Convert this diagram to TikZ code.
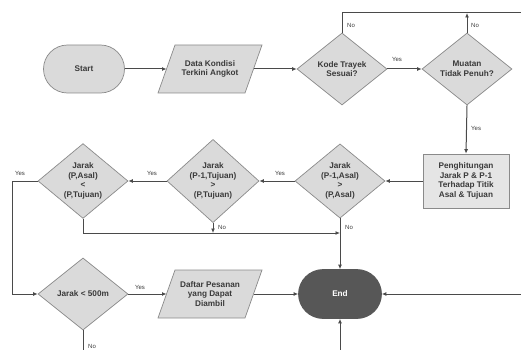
\documentclass[tikz,border=0pt]{standalone}
\usepackage{fontspec}
\setmainfont{Liberation Sans}
\usetikzlibrary{shapes.geometric,shapes.misc,arrows.meta}
\definecolor{ln}{HTML}{4A4A4A}
\definecolor{fl}{HTML}{DADADA}
\definecolor{bd}{HTML}{8A8A8A}
\definecolor{tx}{HTML}{3A3A3A}
\definecolor{endfill}{HTML}{575757}
\tikzset{
  txt/.style={text=tx, font=\fontsize{8.2}{9.6}\selectfont\bfseries, align=center, inner sep=0pt},
  base/.style={txt, draw=bd, fill=fl, line width=0.7pt},
  shapeline/.style={draw=bd, fill=fl, line width=0.7pt},
  term/.style={base, rounded rectangle, minimum width=81pt, minimum height=48pt},
  dec/.style={base, diamond, minimum width=90pt, minimum height=72pt},
  proc/.style={base, rectangle, minimum width=86pt, minimum height=54pt, fill=fl!70!white},
  conn/.style={draw=ln, line width=1pt},
  arr/.style={conn, -{Latex[length=4.5pt,width=4pt]}},
  lbl/.style={text=tx, font=\fontsize{6}{7}\selectfont, inner sep=0pt}
}
\begin{document}
\begin{tikzpicture}[x=1pt,y=-1pt]
\useasboundingbox (0,0) rectangle (521,350);
\node[term] (start) at (84,69) {Start};
% parallelogram: Data Kondisi
\draw[shapeline] (175,45) -- (262,45) -- (245,93) -- (158,93) -- cycle;
\node[txt] (data) at (210,69) {Data Kondisi\\Terkini Angkot};
\coordinate (dataW) at (166.5,69);
\coordinate (dataE) at (253.5,69);
\node[dec] (kode) at (342,69) {Kode Trayek\\Sesuai?};
\node[dec] (muatan) at (467,69) {Muatan\\Tidak Penuh?};
\node[proc] (hitung) at (466,181) {Penghitungan\\Jarak P \& P-1\\Terhadap Titik\\Asal \& Tujuan};
\node[dec] (d1) at (340,181) {Jarak\\(P-1,Asal)\\>\\(P,Asal)};
\node[dec, minimum width=92pt] (d2) at (213,181) {Jarak\\(P-1,Tujuan)\\>\\(P,Tujuan)};
\node[dec] (d3) at (83,181) {Jarak\\(P,Asal)\\<\\(P,Tujuan)};
\node[dec] (d500) at (83,294) {Jarak < 500m};
% parallelogram: Daftar Pesanan
\draw[shapeline] (175,270) -- (262,270) -- (245,318) -- (158,318) -- cycle;
\node[txt] (daftar) at (210,294) {Daftar Pesanan\\yang Dapat\\Diambil};
\coordinate (daftarW) at (166.5,294);
\coordinate (daftarE) at (253.5,294);
\node[term, fill=endfill, draw=endfill, text=white, minimum width=83pt, minimum height=49pt] (end) at (340,294) {End};

\coordinate (topR) at (521,13);
\coordinate (leftX) at (12,181);
\coordinate (join) at (340,233);
\coordinate (endR) at (521,294);
\coordinate (endB) at (340,350);
\coordinate (d500B) at (83,350);

\draw[arr] (start.east) -- (dataW);
\draw[arr] (dataE) -- (kode.west);
\draw[arr] (kode.east) -- (muatan.west);
\draw[conn] (kode.north) |- (topR);
\draw[arr] (muatan.north) -- (muatan.north |- topR);
\draw[arr] (muatan.south) -- (hitung.north);
\draw[arr] (hitung.west) -- (d1.east);
\draw[arr] (d1.west) -- (d2.east);
\draw[arr] (d2.west) -- (d3.east);
\draw[arr] (d3.west) -- (leftX) |- (d500.west);
\draw[arr] (d3.south) |- (join);
\draw[arr] (d2.south) -- (d2.south |- join);
\draw[arr] (d1.south) -- (end.north);
\draw[arr] (d500.east) -- (daftarW);
\draw[arr] (daftarE) -- (end.west);
\draw[arr] (endR) -- (end.east);
\draw[arr] (endB) -- (end.south);
\draw[conn] (d500.south) -- (d500B);

\node[lbl, anchor=west] (n1) at (347,25) {No};
\node[lbl, anchor=west] (n2) at (471,25) {No};
\node[lbl] (y1) at (397,59) {Yes};
\node[lbl, anchor=west] (y2) at (471,128) {Yes};
\node[lbl] (y3) at (280,173) {Yes};
\node[lbl] (y4) at (152,173) {Yes};
\node[lbl] (y5) at (20,173) {Yes};
\node[lbl, anchor=west] (n3) at (345,227) {No};
\node[lbl, anchor=west] (n4) at (218,227) {No};
\node[lbl] (y6) at (140,287) {Yes};
\node[lbl, anchor=west] (n5) at (88,346) {No};
\end{tikzpicture}
\end{document}
